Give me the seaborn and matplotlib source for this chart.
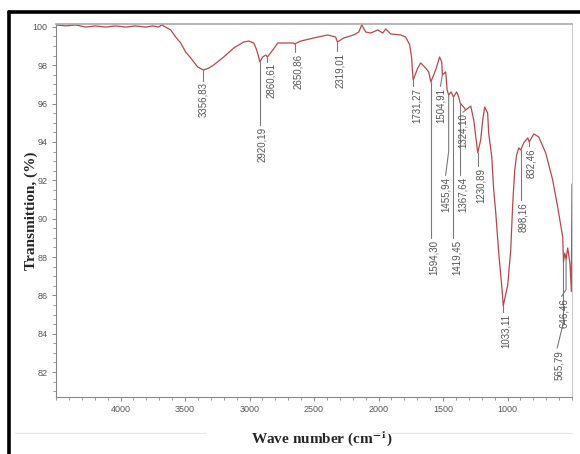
import matplotlib
matplotlib.use("Agg")
import matplotlib.pyplot as plt
import numpy as np
import seaborn as sns
from matplotlib.lines import Line2D
from matplotlib.ticker import MultipleLocator

# FTIR spectrum (wave number, transmittance %)
wavenumber = [4495, 4425, 4347, 4270, 4192, 4115, 4037, 3960, 3882, 3805,
              3750, 3704, 3681, 3650, 3611, 3572, 3533, 3495, 3456, 3402,
              3357, 3316, 3278, 3200, 3122, 3045, 3006, 2967, 2944, 2929,
              2920, 2898, 2874, 2861, 2820, 2781, 2719, 2657, 2651, 2603,
              2502, 2394, 2332, 2319, 2270, 2192, 2153, 2130, 2099, 2060,
              2006, 1967, 1944, 1905, 1828, 1789, 1758, 1743, 1738, 1731,
              1696, 1673, 1634, 1611, 1594, 1557, 1526, 1510, 1505, 1479,
              1468, 1456, 1437, 1419, 1394, 1378, 1367, 1340, 1324, 1285,
              1262, 1240, 1231, 1208, 1192, 1177, 1154, 1146, 1122, 1107,
              1091, 1068, 1040, 1033, 998, 975, 960, 944, 929, 913,
              898, 874, 843, 832, 796, 758, 704, 650, 611, 572,
              566, 556, 546, 533, 515, 505, 500]
transmittance = [100.10, 100.05, 100.10, 99.99, 100.05, 99.99, 100.05, 99.99, 100.05, 99.99,
                 100.05, 99.99, 100.10, 99.99, 99.84, 99.47, 99.16, 98.69, 98.38, 97.91,
                 97.75, 97.85, 98.01, 98.43, 98.90, 99.21, 99.26, 99.16, 98.79, 98.43,
                 98.17, 98.43, 98.53, 98.43, 98.79, 99.16, 99.16, 99.16, 99.11, 99.26,
                 99.42, 99.58, 99.47, 99.21, 99.42, 99.58, 99.73, 100.10, 99.73, 99.68,
                 99.84, 99.68, 99.89, 99.63, 99.58, 99.47, 99.06, 98.38, 97.80, 97.23,
                 97.85, 98.12, 97.85, 97.65, 97.13, 97.75, 98.43, 98.17, 97.49, 97.65,
                 96.71, 96.45, 96.61, 96.34, 96.61, 96.34, 96.03, 95.82, 95.67, 95.87,
                 95.15, 93.95, 93.43, 94.10, 95.15, 95.82, 95.51, 94.47, 93.22, 91.50,
                 90.30, 88.21, 86.12, 85.45, 86.54, 88.37, 90.71, 92.54, 93.32, 93.69,
                 93.58, 93.95, 94.21, 94.00, 94.42, 94.26, 93.43, 92.02, 90.61, 89.04,
                 87.74, 88.20, 87.90, 88.47, 87.60, 86.20, 91.80]

# peak labels, the wave number each one points at, and its dip depth
peak_labels = ["3356,83", "2920,19", "2860,61", "2650,86", "2319,01", "1731,27",
               "1594,30", "1504,91", "1455,94", "1419,45", "1367,64", "1324,10",
               "1230,89", "1033,11", "898,16", "832,46", "646,46", "565,79"]
peak_wn = [3357, 2920, 2861, 2651, 2319, 1731, 1594, 1505, 1456, 1419, 1367, 1324,
           1231, 1033, 898, 832, 546, 566]
peak_t = [97.75, 98.17, 98.43, 99.11, 99.21, 97.23, 97.13, 97.49, 96.45, 96.34, 96.03, 95.67,
          93.43, 85.45, 93.58, 94.00, 87.90, 87.74]

# layout of the labels: (text x, text top), leader polyline
label_pos = [(3357, 97.10), (2905, 94.78), (2835, 98.10), (2625, 98.60), (2295, 98.64),
             (1705, 96.82), (1570, 88.89), (1520, 96.80), (1480, 92.17), (1395, 88.89),
             (1350, 92.17), (1345, 95.50), (1205, 92.64), (1010, 85.03), (875, 90.87),
             (815, 93.69), (560, 85.86), (600, 83.15)]
leaders = [[(3357, 97.20)], [(2920, 94.88)], [(2861, 98.15)], [(2651, 98.70)], [(2319, 98.74)],
           [(1731, 96.92)], [(1594, 88.99)], [(1520, 96.90)], [(1456, 93.5), (1480, 92.25)],
           [(1419, 88.99)], [(1367, 92.27)], [(1345, 95.55)], [(1231, 92.74)], [(1033, 85.13)],
           [(898, 90.97)], [(832, 93.79)], [(546, 86.3), (580, 85.95)], [(566, 84.6), (615, 83.25)]]

xticks = [4000, 3500, 3000, 2500, 2000, 1500, 1000]
yticks = [82, 84, 86, 88, 90, 92, 94, 96, 98, 100]

sns.set_theme(style="ticks")
plt.rcParams["mathtext.fontset"] = "stix"

fig = plt.figure(figsize=(5.8, 4.54), dpi=100)
ax = fig.add_axes([56 / 580, 1 - 397 / 454, 516 / 580, 373 / 454])

sns.lineplot(x=wavenumber, y=transmittance, sort=False, estimator=None,
             color="#b9474a", linewidth=0.9, ax=ax)

for lab, wn, t, (tx, ty), lead in zip(peak_labels, peak_wn, peak_t, label_pos, leaders):
    xs = [wn] + [p[0] for p in lead]
    ys = [t] + [p[1] for p in lead]
    ax.plot(xs, ys, color="#7a7a7a", linewidth=0.8)
    ax.text(tx, ty, lab, rotation=90, ha="center", va="top", fontsize=7,
            color="#555555", family=["Liberation Sans", "DejaVu Sans"])

ax.set_xlim(4500, 500)
ax.set_ylim(80.7, 100.15)
ax.set_xticks(xticks)
ax.set_yticks(yticks)
ax.xaxis.set_minor_locator(MultipleLocator(100))
ax.yaxis.set_minor_locator(MultipleLocator(0.5))
ax.tick_params(which="major", length=3, width=0.7, color="#888888", labelsize=6.5,
               labelcolor="#555555", pad=3)
ax.tick_params(which="minor", length=2, width=0.6, color="#888888")
for lbl in ax.get_xticklabels() + ax.get_yticklabels():
    lbl.set_family(["Liberation Sans Narrow", "Liberation Sans"])

for side in ["left", "bottom"]:
    ax.spines[side].set_color("#888888")
    ax.spines[side].set_linewidth(0.8)
ax.spines["top"].set_color("#aaaaaa")
ax.spines["top"].set_linewidth(1.2)
ax.spines["right"].set_color("#cccccc")
ax.spines["right"].set_linewidth(0.8)

ax.set_xlabel(r"Wave number (cm$^{\mathbf{-1}}$)", family="Liberation Serif",
              fontweight="bold", fontsize=11)
ax.set_ylabel("Transmittion, (%)", family="Liberation Serif", fontweight="bold",
              fontsize=11)
ax.xaxis.set_label_coords(0.515, -0.085)
ax.yaxis.set_label_coords(-0.035, 0.5)

# black outer frame and faint scan lines
fig.add_artist(Line2D([9 / 580, 9 / 580], [0, 1 - 12 / 454], color="black", linewidth=2.6))
fig.add_artist(Line2D([9 / 580, 1], [1 - 12 / 454, 1 - 12 / 454], color="black", linewidth=2.6))
fig.add_artist(Line2D([15 / 580, 205 / 580], [1 - 433 / 454] * 2, color="#e6e6e6", linewidth=0.8))
fig.add_artist(Line2D([372 / 580, 572 / 580], [1 - 433 / 454] * 2, color="#e6e6e6", linewidth=0.8))

fig.savefig("out.png", dpi=100)
